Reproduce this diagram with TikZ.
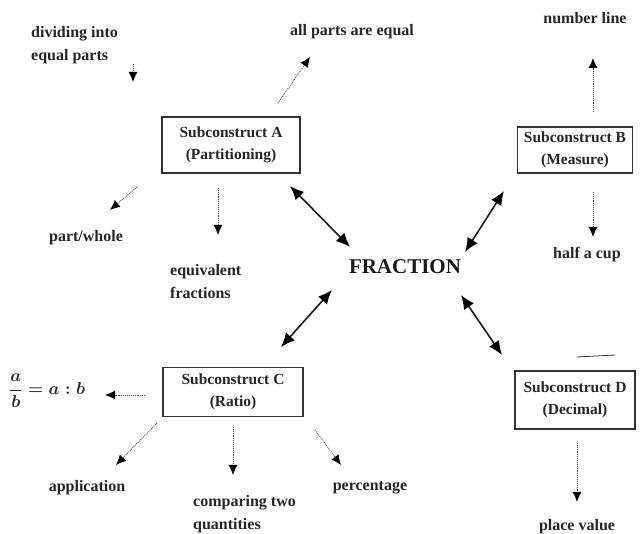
\documentclass[tikz,border=0pt]{standalone}
\usepackage{fontspec}
\setmainfont{Liberation Serif}
\usetikzlibrary{arrows.meta}
\tikzset{
  lbl/.style={font=\fontsize{16}{23}\selectfont\bfseries, inner sep=0pt, text=black!85},
  cbox/.style={draw=black!80, line width=1.6pt, align=center, inner sep=2pt,
     font=\fontsize{15.5}{22}\selectfont\bfseries, text=black!85},
  thin arr/.style={densely dotted, line width=0.9pt, draw=black!70,
     -{Latex[length=10pt,width=9pt,black]}},
  big arr/.style={line width=1.6pt, draw=black!90,
     {Latex[length=14pt,width=12pt,black]}-{Latex[length=14pt,width=12pt,black]}}
}
\begin{document}
\begin{tikzpicture}[x=1pt,y=-1pt]
\useasboundingbox (0,0) rectangle (641,534);
% nodes
\node[lbl, align=left, anchor=west] (divide) at (31,45) {dividing into\\equal parts};
\node[lbl] (allparts) at (352,32) {all parts are equal};
\node[lbl] (numline) at (585,18) {number line};
\node[cbox, minimum width=138pt, minimum height=56pt] (boxA) at (231,145) {Subconstruct A\\(Partitioning)};
\node[cbox, minimum width=115pt, minimum height=46pt] (boxB) at (575,150) {Subconstruct B\\(Measure)};
\node[lbl] (partwhole) at (86,238) {part/whole};
\node[lbl, align=left, anchor=west] (equiv) at (170,282) {equivalent\\fractions};
\node[lbl] (halfcup) at (587,255) {half a cup};
\node[font=\fontsize{21}{24}\selectfont\bfseries, inner sep=0pt, text=black!90] (fraction) at (405,267) {FRACTION};
\node[cbox, minimum width=140pt, minimum height=49pt] (boxC) at (233,392) {Subconstruct C\\(Ratio)};
\node[cbox, minimum width=120pt, minimum height=58pt] (boxD) at (575,400) {Subconstruct D\\(Decimal)};
\node[font=\fontsize{17.5}{22}\selectfont\bfseries\boldmath, inner sep=0pt, anchor=west, text=black!85] (ratio) at (9,391) {$\displaystyle\frac{a}{b}=a:b$};
\node[lbl] (application) at (87,488) {application};
\node[lbl, align=left, anchor=west] (comparing) at (193,514) {comparing two\\quantities};
\node[lbl] (percentage) at (370,488) {percentage};
\node[lbl] (placevalue) at (577,527) {place value};
% connector end points
\coordinate (d1) at (133,64); \coordinate (d2) at (133,82);
\coordinate (a1) at (278,103); \coordinate (a2) at (310,57);
\coordinate (a3) at (137,187); \coordinate (a4) at (110,210);
\coordinate (a5) at (218,188); \coordinate (a6) at (218,235);
\coordinate (b1) at (593,112); \coordinate (b2) at (593,58);
\coordinate (b3) at (593,192); \coordinate (b4) at (593,237);
\coordinate (f1) at (290,186); \coordinate (f2) at (350,247);
\coordinate (f3) at (465,252); \coordinate (f4) at (504,191);
\coordinate (f5) at (332,290); \coordinate (f6) at (281,347);
\coordinate (f7) at (461,295); \coordinate (f8) at (502,355);
\coordinate (c1) at (145,395); \coordinate (c2) at (105,395);
\coordinate (c3) at (157,423); \coordinate (c4) at (116,465);
\coordinate (c5) at (233,427); \coordinate (c6) at (233,475);
\coordinate (c7) at (315,430); \coordinate (c8) at (341,465);
\coordinate (e1) at (577,443); \coordinate (e2) at (577,502);
\coordinate (s1) at (577,357); \coordinate (s2) at (615,355);
% connectors
\draw[thin arr] (d1) -- (d2);
\draw[thin arr] (a1) -- (a2);
\draw[thin arr] (a3) -- (a4);
\draw[thin arr] (a5) -- (a6);
\draw[thin arr] (b1) -- (b2);
\draw[thin arr] (b3) -- (b4);
\draw[big arr] (f1) -- (f2);
\draw[big arr] (f3) -- (f4);
\draw[big arr] (f5) -- (f6);
\draw[big arr] (f7) -- (f8);
\draw[thin arr] (c1) -- (c2);
\draw[thin arr] (c3) -- (c4);
\draw[thin arr] (c5) -- (c6);
\draw[thin arr] (c7) -- (c8);
\draw[thin arr] (e1) -- (e2);
\draw[line width=0.8pt, black!80] (s1) -- (s2);
\end{tikzpicture}
\end{document}
